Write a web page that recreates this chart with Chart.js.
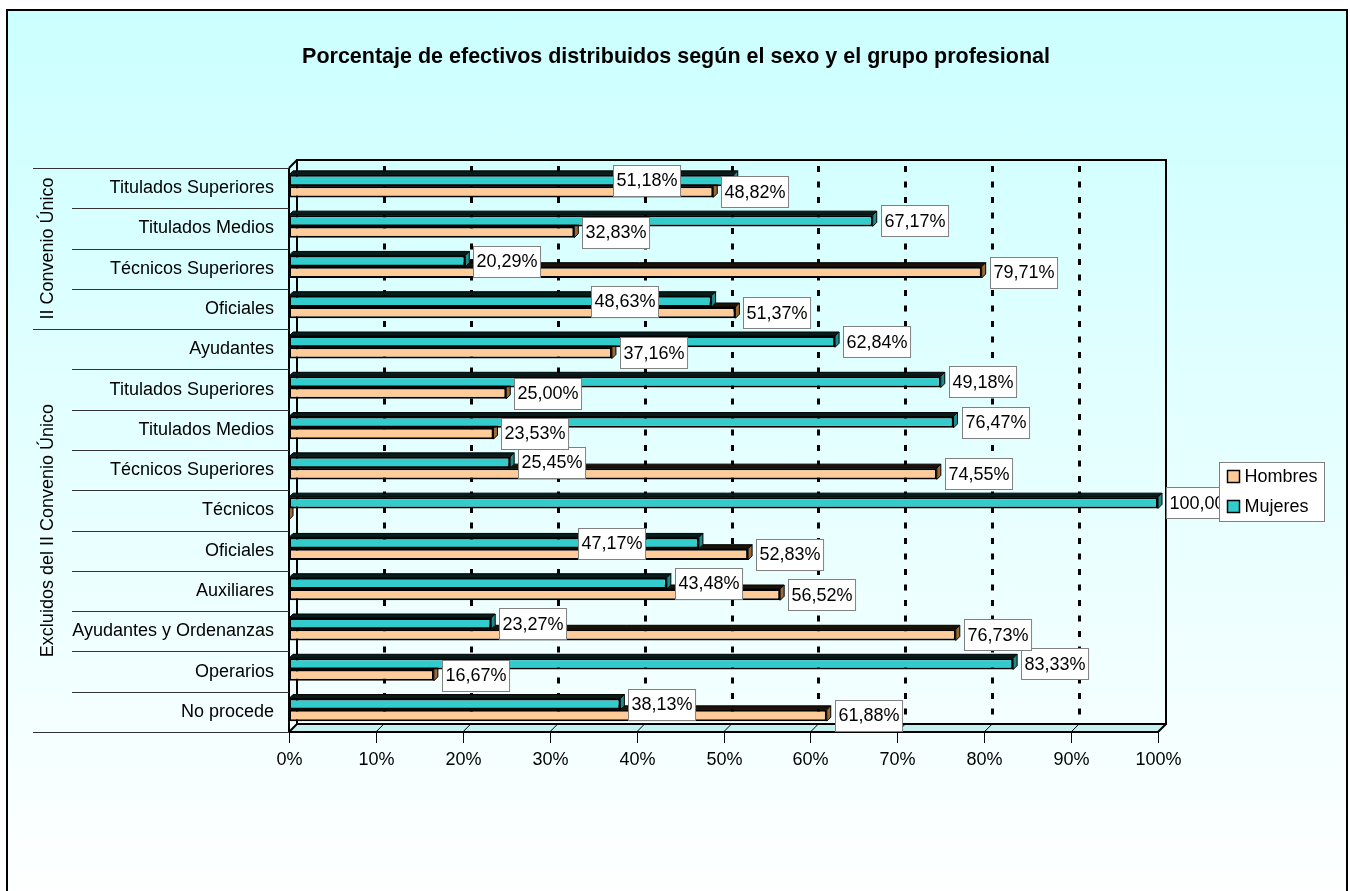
<!DOCTYPE html>
<html><head><meta charset="utf-8">
<script src="https://cdn.jsdelivr.net/npm/chart.js@4.4.0/dist/chart.umd.min.js"></script>
<style>
html,body{margin:0;padding:0;width:1350px;height:891px;overflow:hidden;background:#fff;}
#frame{position:absolute;left:6px;top:9px;width:1338px;height:900px;border:2px solid #000;background:linear-gradient(to bottom,#CCFFFF 0%,#FFFFFF 100%);}
#c{position:absolute;left:0;top:0;}
</style></head><body>
<div id="frame"></div>
<canvas id="c" width="1350" height="891"></canvas>
<script>
const titleText = 'Porcentaje de efectivos distribuidos según el sexo y el grupo profesional';
const categories = ['Titulados Superiores','Titulados Medios','Técnicos Superiores','Oficiales','Ayudantes','Titulados Superiores','Titulados Medios','Técnicos Superiores','Técnicos','Oficiales','Auxiliares','Ayudantes y Ordenanzas','Operarios','No procede'];
const groupNames = ['II Convenio Único','Excluidos del II Convenio Único'];
const groupSizes = [4, 10];
const mujeres = [51.18, 67.17, 20.29, 48.63, 62.84, 75.00, 76.47, 25.45, 100.00, 47.17, 43.48, 23.27, 83.33, 38.13];
const hombres = [48.82, 32.83, 79.71, 51.37, 37.16, 25.00, 23.53, 74.55, 0, 52.83, 56.52, 76.73, 16.67, 61.88];
const mujeresLabels = ['51,18%','67,17%','20,29%','48,63%','62,84%','49,18%','76,47%','25,45%','100,00%','47,17%','43,48%','23,27%','83,33%','38,13%'];
const hombresLabels = ['48,82%','32,83%','79,71%','51,37%','37,16%','25,00%','23,53%','74,55%','','52,83%','56,52%','76,73%','16,67%','61,88%'];
const xTicks = [0,10,20,30,40,50,60,70,80,90,100];
const xTickLabels = ['0%','10%','20%','30%','40%','50%','60%','70%','80%','90%','100%'];

const FONT = '"Liberation Sans", Arial, Helvetica, sans-serif';
const DEPTH = 4, WALL = 8, SHIFT = -2;
const topColors = ['#071c1c', '#1c1206'];
const sideColors = ['#1f8c8c', '#9c6a36'];
const allLabels = [mujeresLabels, hombresLabels];

const deco = {
  id: 'deco',
  beforeDatasetsDraw(chart) {
    const {ctx, chartArea: a, scales: {x}} = chart;
    ctx.save();
    ctx.fillStyle = '#c6efef';
    ctx.beginPath();
    ctx.moveTo(a.left, a.bottom); ctx.lineTo(a.left + WALL, a.bottom - WALL);
    ctx.lineTo(a.right + WALL, a.bottom - WALL); ctx.lineTo(a.right, a.bottom);
    ctx.closePath(); ctx.fill();
    ctx.strokeStyle = '#000'; ctx.lineWidth = 1;
    xTicks.forEach(v => {
      const px = x.getPixelForValue(v);
      ctx.beginPath(); ctx.moveTo(px + WALL, a.bottom - WALL); ctx.lineTo(px, a.bottom); ctx.stroke();
    });
    ctx.lineWidth = 3; ctx.setLineDash([6, 9.5]);
    xTicks.forEach(v => {
      if (v <= 0 || v >= 100) return;
      const px = Math.round(x.getPixelForValue(v) + WALL) + 0.5;
      ctx.beginPath(); ctx.moveTo(px, a.top - WALL + 6); ctx.lineTo(px, a.bottom - WALL); ctx.stroke();
    });
    ctx.setLineDash([]);
    ctx.lineWidth = 2;
    ctx.beginPath();
    ctx.moveTo(a.left + WALL, a.bottom - WALL); ctx.lineTo(a.left + WALL, a.top - WALL);
    ctx.lineTo(a.right + WALL, a.top - WALL); ctx.lineTo(a.right + WALL, a.bottom - WALL);
    ctx.lineTo(a.left + WALL, a.bottom - WALL);
    ctx.moveTo(a.left, a.top); ctx.lineTo(a.left + WALL, a.top - WALL);
    ctx.moveTo(a.left, a.bottom); ctx.lineTo(a.left + WALL, a.bottom - WALL);
    ctx.moveTo(a.right, a.bottom); ctx.lineTo(a.right + WALL, a.bottom - WALL);
    ctx.stroke();
    ctx.restore();
    ctx.save();
    ctx.translate(0, SHIFT);
  },
  beforeDatasetDraw(chart, args) {
    const ctx = chart.ctx; const i = args.index;
    args.meta.data.forEach(el => {
      const {x, y, base, height} = el.getProps(['x', 'y', 'base', 'height'], true);
      const t = y - height / 2, b = y + height / 2;
      ctx.lineWidth = 1; ctx.strokeStyle = '#000';
      ctx.beginPath();
      ctx.moveTo(base, t); ctx.lineTo(base + DEPTH, t - DEPTH); ctx.lineTo(x + DEPTH, t - DEPTH); ctx.lineTo(x, t);
      ctx.closePath(); ctx.fillStyle = topColors[i]; ctx.fill(); ctx.stroke();
      ctx.beginPath();
      ctx.moveTo(x, t); ctx.lineTo(x + DEPTH, t - DEPTH); ctx.lineTo(x + DEPTH, b - DEPTH); ctx.lineTo(x, b);
      ctx.closePath(); ctx.fillStyle = sideColors[i]; ctx.fill(); ctx.stroke();
    });
  },
  afterDatasetsDraw(chart) {
    const {ctx, chartArea: a, scales: {x, y}} = chart;
    ctx.restore();
    ctx.save();
    ctx.strokeStyle = '#000'; ctx.lineWidth = 2;
    ctx.beginPath(); ctx.moveTo(a.left, a.top); ctx.lineTo(a.left, a.bottom); ctx.lineTo(a.right, a.bottom); ctx.stroke();
    ctx.lineWidth = 1;
    ctx.font = '18px ' + FONT; ctx.fillStyle = '#000'; ctx.textAlign = 'center'; ctx.textBaseline = 'middle';
    xTicks.forEach((v, k) => {
      const px = Math.round(x.getPixelForValue(v)) + 0.5;
      ctx.beginPath(); ctx.moveTo(px, a.bottom); ctx.lineTo(px, a.bottom + 11); ctx.stroke();
      ctx.fillText(xTickLabels[k], px, a.bottom + 28);
    });
    const band = y.getPixelForValue(1) - y.getPixelForValue(0);
    const groupStarts = [0]; groupSizes.forEach((s, g) => groupStarts.push(groupStarts[g] + s));
    ctx.strokeStyle = '#333'; ctx.lineWidth = 1;
    for (let i = 0; i <= categories.length; i++) {
      const py = Math.round(y.getPixelForValue(i) - band / 2) + 0.5;
      const long = groupStarts.includes(i);
      ctx.beginPath(); ctx.moveTo(long ? 33 : 72, py); ctx.lineTo(a.left, py); ctx.stroke();
    }
    ctx.font = '18px ' + FONT; ctx.textAlign = 'right';
    categories.forEach((c, i) => ctx.fillText(c, a.left - 15, y.getPixelForValue(i)));
    ctx.textAlign = 'center';
    groupNames.forEach((g, k) => {
      const y0 = y.getPixelForValue(groupStarts[k]) - band / 2;
      const y1 = y.getPixelForValue(groupStarts[k + 1] - 1) + band / 2;
      ctx.save(); ctx.translate(48, (y0 + y1) / 2); ctx.rotate(-Math.PI / 2);
      ctx.fillText(g, 0, 0); ctx.restore();
    });
    ctx.font = '18px ' + FONT;
    const h = 31;
    const boxes = chart.data.datasets.map((ds, di) => chart.getDatasetMeta(di).data.map((el, i) => {
      const txt = allLabels[di][i];
      const w = ctx.measureText(txt).width + 6;
      return {txt, w, lx: el.x + DEPTH + 4, cy: el.y + SHIFT, end: el.x};
    }));
    boxes[0].forEach((m, i) => {
      const hb = boxes[1][i];
      if (!hb.txt) return;
      const xOver = m.lx < hb.lx + hb.w && hb.lx < m.lx + m.w;
      const yOver = Math.abs(m.cy - hb.cy) < h;
      if (xOver && yOver) m.lx = m.end - 54 - m.w;
    });
    boxes.forEach(list => list.forEach(bx => {
      if (!bx.txt) return;
      const lx = Math.round(bx.lx) + 0.5, ty = Math.round(bx.cy - h / 2) + 0.5;
      ctx.fillStyle = '#fff'; ctx.fillRect(lx, ty, bx.w, h);
      ctx.strokeStyle = '#808080'; ctx.lineWidth = 1; ctx.strokeRect(lx, ty, bx.w, h);
      ctx.fillStyle = '#000'; ctx.textAlign = 'left';
      ctx.fillText(bx.txt, lx + 3, bx.cy + 1);
    }));
    const lgX = 1219.5, lgY = 462.5, lgW = 105, lgH = 59;
    ctx.fillStyle = '#fff'; ctx.fillRect(lgX, lgY, lgW, lgH);
    ctx.strokeStyle = '#808080'; ctx.lineWidth = 1; ctx.strokeRect(lgX, lgY, lgW, lgH);
    [1, 0].forEach((di, k) => {
      const ds = chart.data.datasets[di];
      const cy = lgY + 14 + k * 30;
      ctx.fillStyle = ds.backgroundColor; ctx.fillRect(lgX + 8, cy - 6, 12, 12);
      ctx.strokeStyle = '#000'; ctx.lineWidth = 1.5; ctx.strokeRect(lgX + 8, cy - 6, 12, 12);
      ctx.fillStyle = '#000'; ctx.textAlign = 'left'; ctx.font = '18px ' + FONT;
      ctx.fillText(ds.label, lgX + 25, cy + 1);
    });
    ctx.font = 'bold 21.5px ' + FONT; ctx.textAlign = 'center'; ctx.fillStyle = '#000';
    ctx.fillText(titleText, 676, 57);
    ctx.restore();
  }
};

new Chart(document.getElementById('c'), {
  type: 'bar',
  data: {
    labels: categories,
    datasets: [
      {label: 'Mujeres', data: mujeres, backgroundColor: '#33CCCC', borderColor: '#000', borderWidth: 2, borderSkipped: false, clip: false, categoryPercentage: 0.56, barPercentage: 1},
      {label: 'Hombres', data: hombres, backgroundColor: '#FFCC99', borderColor: '#000', borderWidth: 2, borderSkipped: false, clip: false, categoryPercentage: 0.56, barPercentage: 1}
    ]
  },
  options: {
    indexAxis: 'y',
    responsive: false,
    animation: false,
    devicePixelRatio: 1,
    layout: {padding: {left: 289, right: 192, top: 168, bottom: 159}},
    plugins: {legend: {display: false}, title: {display: false}, tooltip: {enabled: false}},
    scales: {
      x: {display: false, min: 0, max: 100},
      y: {display: false, offset: true}
    }
  },
  plugins: [deco]
});
</script>
</body></html>
